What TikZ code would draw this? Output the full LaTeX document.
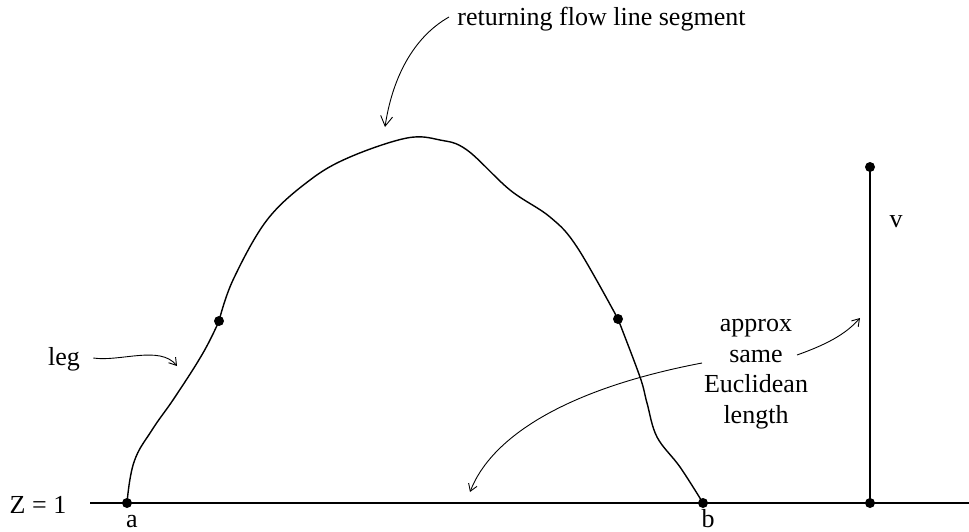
\documentclass[tikz,border=0pt]{standalone}
\usepackage{fontspec}
\setmainfont{Liberation Serif}
\usetikzlibrary{arrows.meta}
\tikzset{
  dot/.style={circle, fill=black, inner sep=0pt, minimum size=5pt},
  lbl/.style={font=\fontsize{13}{15.25}\selectfont, inner sep=0pt},
  pointer/.style={line width=0.45pt, -{Straight Barb[length=3.5pt,width=4.5pt]}},
  flow/.style={line width=0.7pt},
  heavy/.style={line width=1.25pt},
}
\begin{document}
\begin{tikzpicture}[x=0.5pt,y=-0.5pt]
\useasboundingbox (0,0) rectangle (969,531);
% points on Z = 1 and the vertical segment
\node[dot] (a) at (127,503) {};
\node[dot] (b) at (703,503) {};
\node[dot] (vb) at (870,503) {};
\node[dot] (vt) at (870,167) {};
\node[dot] (l) at (219,321) {};
\node[dot] (r) at (618,319) {};
\coordinate (zl) at (90,503);
\coordinate (zr) at (969,503);
\draw[flow] (zl) -- (a.center);
\draw[heavy] (a.center) -- (b.center);
\draw[flow] (b.center) -- (zr);
\draw[heavy] (vb.center) -- (vt.center);
% returning flow line
\draw[flow] plot[smooth, tension=0.7] coordinates {(127,503) (134,462) (152,430) (175,397) (203,353) (219,321)};
\draw[flow] plot[smooth, tension=0.6] coordinates {(219,321) (233,280) (267,220) (310,180) (350,157) (407,138) (440,140) (467,150) (510,190) (550,217) (577,247) (618,319)};
\draw[flow] plot[smooth, tension=0.6] coordinates {(618,319) (640,377) (647,403) (657,437) (680,467) (703,503)};
% labels
\node[lbl, anchor=base] (zlab) at (38,513) {Z = 1};
\node[lbl, anchor=base] (alab) at (132,527) {a};
\node[lbl, anchor=base] (blab) at (708,527) {b};
\node[lbl, anchor=base] (vlab) at (896,227) {v};
\node[lbl, anchor=base west] (seg) at (457,25) {returning flow line segment};
\node[lbl, anchor=base] (leg) at (64,365) {leg};
\node[lbl, align=center] (same) at (756,374) {approx\\same\\Euclidean\\length};
% pointers
\coordinate (segtip) at (385,127);
\coordinate (legtip) at (177,366);
\coordinate (basetip) at (470,492);
\coordinate (vtip) at (860,318);
\draw[pointer, -{Straight Barb[length=5pt,width=6pt]}] ([xshift=-4pt,yshift=4pt]seg.base west) .. controls (412,38) and (392,80) .. (segtip);
\draw[pointer] ([xshift=6.5pt,yshift=3.5pt]leg.base east) .. controls (120,362) and (160,345) .. (legtip);
\draw[pointer] (702,363) .. controls (560,390) and (490,440) .. (basetip);
\draw[pointer] (797,355) .. controls (825,345) and (845,335) .. (vtip);
\end{tikzpicture}
\end{document}
